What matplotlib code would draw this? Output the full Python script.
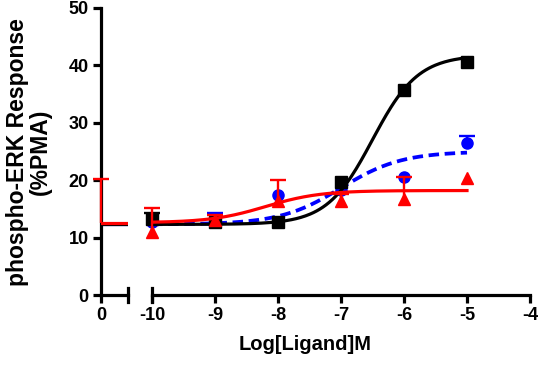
import numpy as np
import matplotlib
matplotlib.use("Agg")
import matplotlib.pyplot as plt

plt.rcParams['font.family'] = ['Liberation Sans', 'DejaVu Sans']
plt.rcParams['font.weight'] = 'bold'
plt.rcParams['axes.unicode_minus'] = False

# log concentrations
log_conc = [-10, -9, -8, -7, -6, -5]

# black squares
black_mean = [13.2, 12.7, 12.8, 19.6, 35.8, 40.6]
black_err = [1.1, 0.0, 0.0, 0.0, 0.0, 0.0]
# blue circles
blue_mean = [12.8, 13.4, 17.4, 18.3, 20.6, 26.4]
blue_err = [0.0, 0.8, 0.0, 0.0, 0.0, 1.3]
# red triangles
red_mean = [10.9, 13.0, 16.4, 16.3, 16.7, 20.4]
red_err = [4.2, 1.0, 3.6, 1.3, 3.8, 0.0]

# values at zero ligand
red_zero_mean = 12.5
red_zero_err = 7.7

# 4PL fit parameters: bottom, top, logEC50, hill
black_fit = [12.3, 41.8, -6.5, 1.2]
blue_fit = [12.3, 25.0, -7.0, 0.9]
red_fit = [12.6, 18.2, -8.2, 1.0]


def four_pl(x, p):
    bottom, top, ec50, hill = p
    return bottom + (top - bottom) / (1 + 10 ** ((ec50 - x) * hill))


def draw_errors(ax, x, m, e, color, z):
    # upper error bars only, prism style
    x = np.array(x, dtype=float)
    m = np.array(m, dtype=float)
    e = np.array(e, dtype=float)
    keep = e > 0
    if keep.any():
        ax.vlines(x[keep], m[keep], m[keep] + e[keep], color=color, lw=1.7,
                  clip_on=False, zorder=z)
        ax.plot(x[keep], m[keep] + e[keep], ls='none', marker='_', ms=12,
                mew=1.7, color=color, clip_on=False, zorder=z)


fig = plt.figure(figsize=(5.4, 3.67), dpi=100)
ax0 = fig.add_axes([101 / 540, 1 - 295 / 367, 27 / 540, 287 / 367])
ax1 = fig.add_axes([152 / 540, 1 - 295 / 367, 378 / 540, 287 / 367])

lw = 2.3
for ax in (ax0, ax1):
    ax.set_ylim(0, 50)
    ax.spines['top'].set_visible(False)
    ax.spines['right'].set_visible(False)
    ax.spines['bottom'].set_linewidth(lw)
    ax.spines['left'].set_linewidth(lw)
    ax.tick_params(width=lw, length=6, labelsize=13, direction='out', pad=3)
    ax.patch.set_alpha(0)

ax1.spines['left'].set_visible(False)
ax1.tick_params(axis='y', left=False, labelleft=False)
ax0.set_yticks([0, 10, 20, 30, 40, 50])
ax0.set_xlim(0, 1)
ax0.set_xticks([0])
ax1.set_xlim(-10, -4)
ax1.set_xticks(np.arange(-10, -3))

# segment end caps
ax0.plot([1, 1], [-0.025, 0.025], color='black', lw=lw,
         transform=ax0.get_xaxis_transform(), clip_on=False)
ax1.plot([-10, -10], [-0.025, 0.025], color='black', lw=lw,
         transform=ax1.get_xaxis_transform(), clip_on=False)

xs = np.linspace(-10, -5, 200)

# blue
ax0.axhline(blue_fit[0], color='blue', lw=lw, zorder=2)
ax1.plot(xs, four_pl(xs, blue_fit), color='blue', lw=lw + 0.4,
         ls=(0, (2.8, 1.5)), zorder=2)
ax1.plot(log_conc, blue_mean, 'o', color='blue', ms=8, clip_on=False,
         zorder=3)
draw_errors(ax1, log_conc, blue_mean, blue_err, 'blue', 3)

# black
ax0.axhline(black_fit[0], color='black', lw=lw, zorder=4)
ax1.plot(xs, four_pl(xs, black_fit), color='black', lw=lw, zorder=4)
ax1.plot(log_conc, black_mean, 's', color='black', ms=9, clip_on=False,
         zorder=5)
draw_errors(ax1, log_conc, black_mean, black_err, 'black', 5)

# red
ax0.axhline(red_fit[0], color='red', lw=lw, zorder=6)
draw_errors(ax0, [0], [red_zero_mean], [red_zero_err], 'red', 7)
ax1.plot(xs, four_pl(xs, red_fit), color='red', lw=lw, zorder=6)
ax1.plot(log_conc, red_mean, '^', color='red', ms=9, clip_on=False,
         zorder=7)
draw_errors(ax1, log_conc, red_mean, red_err, 'red', 7)

fig.text(305 / 540, 0.035, 'Log[Ligand]M', ha='center',
         va='bottom', fontsize=14.5, fontweight='bold')
fig.text(0.054, 1 - 152 / 367, 'phospho-ERK Response\n(%PMA)', ha='center',
         va='center', rotation=90, fontsize=16.5, fontweight='bold',
         linespacing=1.0)

fig.savefig('out.png', dpi=100)
